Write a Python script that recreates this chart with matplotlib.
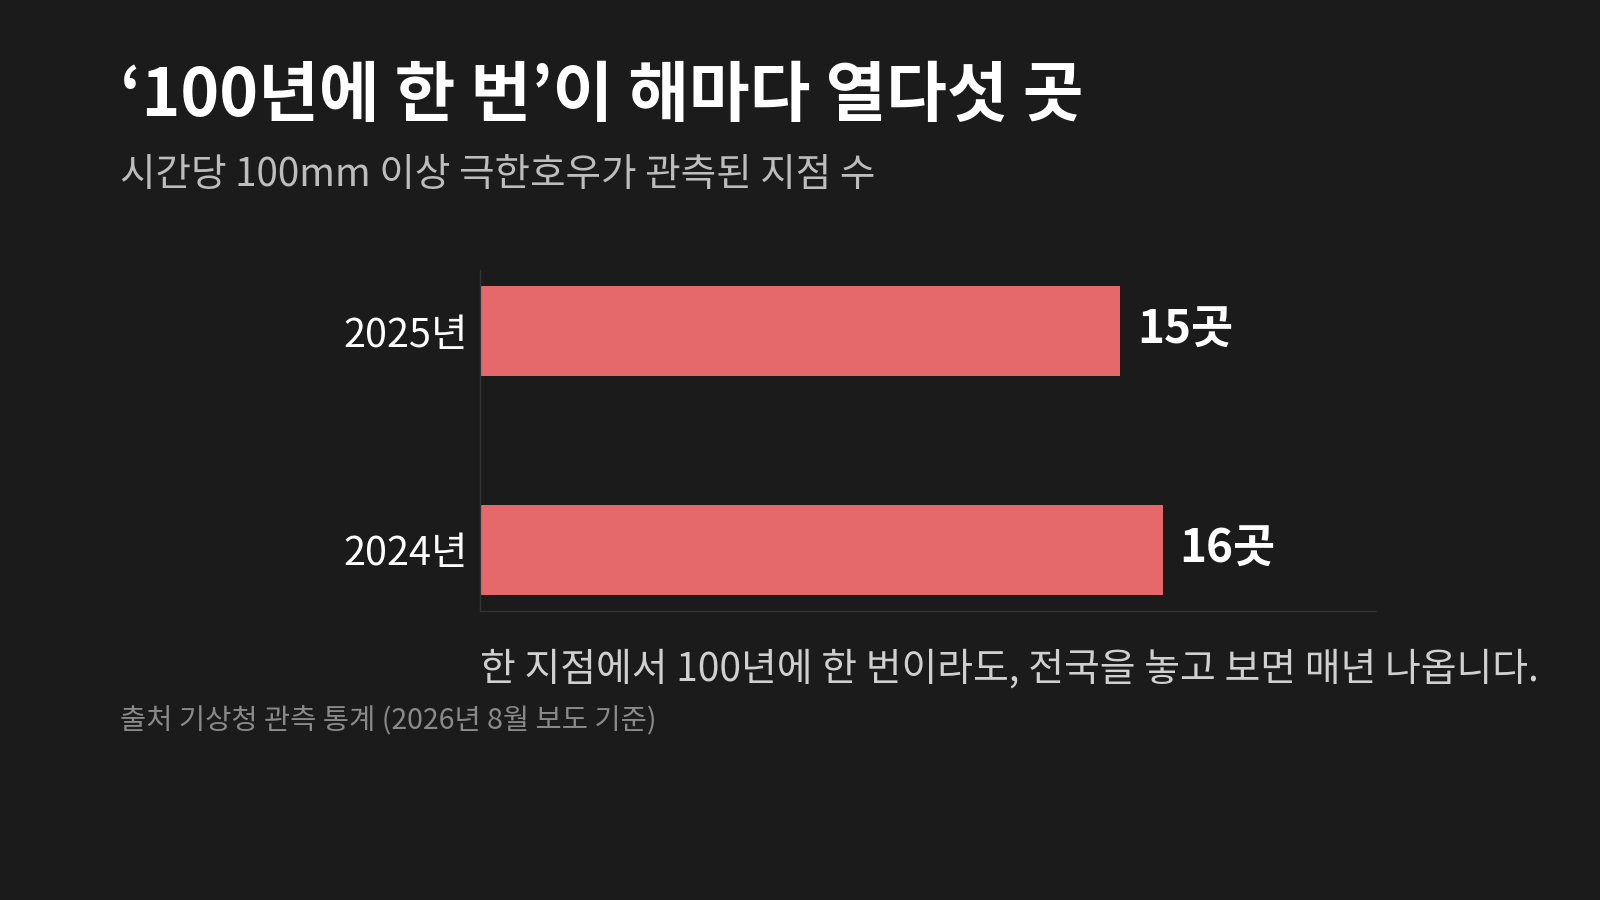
import matplotlib.pyplot as plt

plt.rcParams['font.family'] = ['Noto Sans CJK KR', 'DejaVu Sans']

# 데이터
years = ["2024년", "2025년"]
counts = [16, 15]
value_labels = ["16곳", "15곳"]

bg = "#1b1b1b"
bar_color = "#e5696a"

fig = plt.figure(figsize=(16, 9), dpi=100, facecolor=bg)
ax = fig.add_axes([0.3, 0.321, 0.56, 0.379], facecolor=bg)

pos = list(range(len(years)))
ax.barh(pos, counts, height=0.41, color=bar_color)

for p, c, lab in zip(pos, counts, value_labels):
    ax.text(c + 0.4, p, lab, va="center", ha="left", color="white",
            fontsize=33, fontweight="bold")

ax.set_yticks(pos)
ax.set_yticklabels(years, color="white", fontsize=28.5)
ax.tick_params(axis="y", length=0, pad=9)
ax.set_xticks([])
ax.set_xlim(0, 21)
ax.set_ylim(-0.28, 1.28)

for s in ["top", "right"]:
    ax.spines[s].set_visible(False)
for s in ["left", "bottom"]:
    ax.spines[s].set_color("#333333")
    ax.spines[s].set_linewidth(1)

# 제목과 설명
fig.text(0.075, 0.893, "‘100년에 한 번’이 해마다 열다섯 곳", color="white",
         fontsize=47.5, fontweight="bold", va="center", ha="left")
fig.text(0.075, 0.806, "시간당 100mm 이상 극한호우가 관측된 지점 수", color="#bdbdbd",
         fontsize=27.8, va="center", ha="left")
fig.text(0.3, 0.256, "한 지점에서 100년에 한 번이라도, 전국을 놓고 보면 매년 나옵니다.",
         color="#d0d0d0", fontsize=28, va="center", ha="left")
fig.text(0.075, 0.199, "출처 기상청 관측 통계 (2026년 8월 보도 기준)", color="#8a8a8a",
         fontsize=20.5, va="center", ha="left")

fig.savefig("out.png", facecolor=bg)
